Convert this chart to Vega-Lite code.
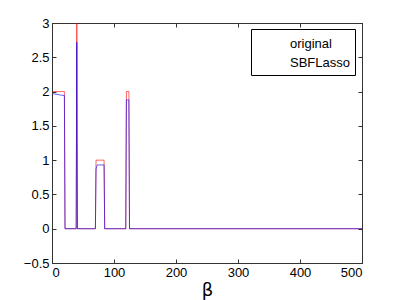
{
  "$schema": "https://vega.github.io/schema/vega-lite/v6.json",
  "width": 310,
  "height": 240,
  "autosize": {"type": "none"},
  "padding": {"left": 52, "top": 23, "right": 37, "bottom": 37},
  "background": "white",
  "config": {
    "view": {"stroke": "black", "strokeWidth": 1},
    "font": "Liberation Sans",
    "axis": {"grid": false, "domainColor": "#333333", "tickColor": "#333333", "labelColor": "black", "labelFontSize": 13, "labelFont": "Liberation Sans"}
  },
  "data": {
    "values": [
      {"series": "original", "x": 1, "y": 2},
      {"series": "original", "x": 20, "y": 2},
      {"series": "original", "x": 21, "y": 0},
      {"series": "original", "x": 39, "y": 0},
      {"series": "original", "x": 40, "y": 3},
      {"series": "original", "x": 41, "y": 0},
      {"series": "original", "x": 70, "y": 0},
      {"series": "original", "x": 71, "y": 1},
      {"series": "original", "x": 84, "y": 1},
      {"series": "original", "x": 85, "y": 0},
      {"series": "original", "x": 119, "y": 0},
      {"series": "original", "x": 120, "y": 2},
      {"series": "original", "x": 124, "y": 2},
      {"series": "original", "x": 125, "y": 0},
      {"series": "original", "x": 500, "y": 0},
      {"series": "SBFLasso", "x": 1, "y": 1.97},
      {"series": "SBFLasso", "x": 20, "y": 1.94},
      {"series": "SBFLasso", "x": 21, "y": 0},
      {"series": "SBFLasso", "x": 39, "y": 0},
      {"series": "SBFLasso", "x": 40, "y": 2.72},
      {"series": "SBFLasso", "x": 41, "y": 0},
      {"series": "SBFLasso", "x": 70, "y": 0},
      {"series": "SBFLasso", "x": 71, "y": 0.87},
      {"series": "SBFLasso", "x": 73, "y": 0.93},
      {"series": "SBFLasso", "x": 84, "y": 0.93},
      {"series": "SBFLasso", "x": 85, "y": 0},
      {"series": "SBFLasso", "x": 119, "y": 0},
      {"series": "SBFLasso", "x": 120, "y": 1.88},
      {"series": "SBFLasso", "x": 124, "y": 1.88},
      {"series": "SBFLasso", "x": 125, "y": 0},
      {"series": "SBFLasso", "x": 500, "y": 0}
    ]
  },
  "layer": [
    {
      "mark": {"type": "line", "strokeWidth": 1, "opacity": 0.6, "clip": true},
      "encoding": {
        "x": {
          "field": "x", "type": "quantitative",
          "scale": {"domain": [0, 500], "nice": false},
          "axis": {"orient": "bottom", "values": [0, 100, 200, 300, 400, 500], "tickSize": -4, "labelPadding": 7, "title": "β", "titleFontSize": 18, "titleFontWeight": "normal", "titlePadding": 2, "titleFont": "DejaVu Sans", "titleColor": "black"}
        },
        "y": {
          "field": "y", "type": "quantitative",
          "scale": {"domain": [-0.5, 3], "nice": false},
          "axis": {"orient": "left", "values": [-0.5, 0, 0.5, 1, 1.5, 2, 2.5, 3], "tickSize": -4, "labelPadding": 7, "title": null, "format": "~g", "labelExpr": "replace(datum.label, '-', '\u2212')"}
        },
        "color": {
          "field": "series", "type": "nominal",
          "scale": {"domain": ["original", "SBFLasso"], "range": ["#ff0000", "#0000ff"]},
          "legend": {
            "orient": "none", "legendX": 199, "legendY": 6, "title": null,
            "strokeColor": "black", "fillColor": "white", "padding": 5,
            "symbolOpacity": 0, "symbolType": "stroke", "symbolSize": 300,
            "labelOffset": 15,
            "labelFontSize": 13, "rowPadding": 2, "labelColor": "black"
          }
        }
      }
    },
    {
      "mark": {"type": "line", "opacity": 0},
      "encoding": {
        "x": {
          "field": "x", "type": "quantitative",
          "scale": {"domain": [0, 500], "nice": false},
          "axis": {"orient": "top", "values": [0, 100, 200, 300, 400, 500], "tickSize": -4, "labels": false, "title": null}
        },
        "y": {
          "field": "y", "type": "quantitative",
          "scale": {"domain": [-0.5, 3], "nice": false},
          "axis": {"orient": "right", "values": [-0.5, 0, 0.5, 1, 1.5, 2, 2.5, 3], "tickSize": -4, "labels": false, "title": null}
        },
        "detail": {"field": "series"}
      }
    }
  ],
  "resolve": {"axis": {"x": "independent", "y": "independent"}}
}
